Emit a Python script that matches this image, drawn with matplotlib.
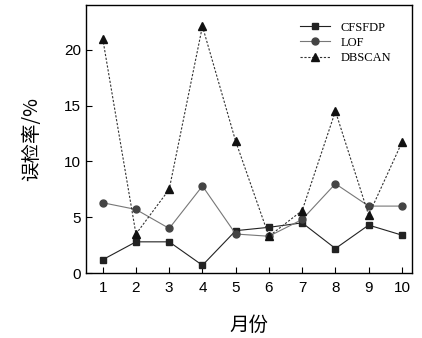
import matplotlib
matplotlib.use("Agg")
import matplotlib.pyplot as plt

months = [1, 2, 3, 4, 5, 6, 7, 8, 9, 10]
cfsfdp = [1.2, 2.8, 2.8, 0.7, 3.8, 4.1, 4.5, 2.2, 4.3, 3.4]
lof = [6.3, 5.7, 4.0, 7.8, 3.5, 3.3, 4.8, 8.0, 6.0, 6.0]
dbscan = [21.0, 3.5, 7.5, 22.1, 11.8, 3.3, 5.6, 14.5, 5.2, 11.7]

plt.rcParams['font.family'] = ['Liberation Sans', 'Noto Sans CJK SC']

fig = plt.figure(figsize=(4.22, 3.38), dpi=100)
ax = fig.add_axes([0.204, 0.192, 0.772, 0.793])

ax.plot(months, cfsfdp, color='#222222', lw=0.8, marker='s', ms=4.5, label='CFSFDP')
ax.plot(months, lof, color='#777777', lw=0.8, marker='o', ms=5, mfc='#444444', mec='#444444', label='LOF')
ax.plot(months, dbscan, color='#333333', lw=0.8, ls=(0, (2, 1.5)), marker='^', ms=6, mfc='#111111', mec='#111111', label='DBSCAN')

ax.set_xlim(0.5, 10.3)
ax.set_ylim(0, 24)
ax.set_xticks(months)
ax.set_yticks([0, 5, 10, 15, 20])
ax.tick_params(direction='in', labelsize=11, length=4)
ax.tick_params(axis='x', pad=6)
for s in ax.spines.values():
    s.set_linewidth(1.0)

ax.set_ylabel('误检率/%', fontsize=14, family=['Noto Sans CJK SC'], labelpad=16)
ax.set_xlabel('月份', fontsize=14, family=['Noto Sans CJK SC'], labelpad=14)

ax.legend(loc='upper right', frameon=False, prop={'family': 'Liberation Serif', 'size': 9},
          handlelength=2.4, labelspacing=0.25, bbox_to_anchor=(0.97, 0.98))

fig.savefig('out.png', dpi=100)
